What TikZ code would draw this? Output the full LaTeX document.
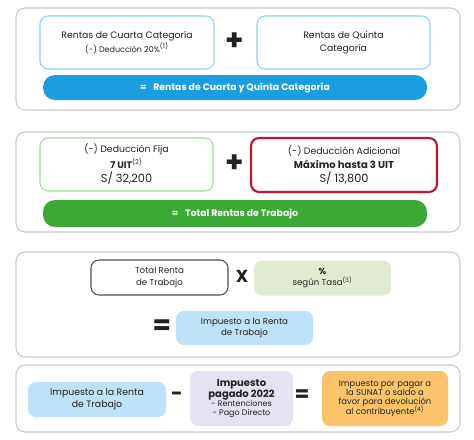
\documentclass[tikz,border=0pt]{standalone}
\usepackage{fontspec}
\setmainfont{Poppins}
\usepackage{tikz}
\usetikzlibrary{positioning, calc}
\usepackage{xcolor}

\definecolor{panelgray}{HTML}{CACACA}
\definecolor{skyline}{HTML}{8ECFEF}
\definecolor{skybar}{HTML}{1B9DDF}
\definecolor{leafline}{HTML}{A9D6A2}
\definecolor{leafbar}{HTML}{3DA935}
\definecolor{redline}{HTML}{C4122F}
\definecolor{sagefill}{HTML}{E1EBD2}
\definecolor{icefill}{HTML}{BEE2F7}
\definecolor{lilacfill}{HTML}{E4E3F1}
\definecolor{amberfill}{HTML}{FBC46B}
\definecolor{inkgray}{HTML}{222222}

\newcommand{\txt}[1]{\fontsize{#1}{\fpeval{#1*1.3}}\selectfont}

\begin{document}
\begin{tikzpicture}[x=0.75pt, y=-0.75pt,
  panel/.style={draw=panelgray, line width=0.8pt, rounded corners=7pt},
  box/.style={rounded corners=6pt, align=center, text=inkgray, inner sep=1pt, font=\txt{7}},
  bar/.style={rounded corners=9pt, minimum width=288pt, text=white, font=\txt{7}\bfseries},
  op/.style={text=inkgray, font=\txt{22}\bfseries}]
  \fill[white] (0,0) rectangle (474,439);
  \useasboundingbox (0,0) rectangle (474,439);

  % Panel 1: cuarta + quinta
  \draw[panel] (16,8) rectangle (460,110);
  \node[box, draw=skyline, line width=0.8pt, minimum width=130.5pt, minimum height=39.75pt] (cuarta) at (127,42.5)
    {Rentas de Cuarta Categoría\\[1pt]{\txt{6}(-) Deducción 20\%\textsuperscript{(1)}}};
  \node[op] (plusA) at (235,42) {+};
  \node[box, draw=skyline, line width=0.8pt, minimum width=129.75pt, minimum height=39.75pt] (quinta) at (343.5,42.5)
    {Rentas de Quinta\\[1pt]Categoría};
  \node[bar, fill=skybar, minimum height=18.75pt] (sumaBar) at (235,87.5)
    {=\hspace{5pt}Rentas de Cuarta y Quinta Categoría};

  % Panel 2: deducciones
  \draw[panel] (16,132) rectangle (460,232);
  \node[box, draw=leafline, line width=0.8pt, minimum width=129.75pt, minimum height=39.75pt] (fija) at (126.5,164.5)
    {(-) Deducción Fija\\[1.5pt]\textbf{7 UIT}\textsuperscript{(2)}\\[1.5pt]{\txt{8.5}S/ 32,200}};
  \node[op] (plusB) at (235,164) {+};
  \node[box, draw=redline, line width=1.6pt, minimum width=139.5pt, minimum height=40.5pt] (adicional) at (344,165)
    {(-) Deducción Adicional\\[1pt]{\txt{7.5}\textbf{Máximo hasta 3 UIT}}\\[1.5pt]{\txt{8.5}S/ 13,800}};
  \node[bar, fill=leafbar, minimum height=20.25pt] (totalBar) at (235,213.5)
    {=\hspace{5pt}Total Rentas de Trabajo};

  % Panel 3: tasa
  \draw[panel] (16,252) rectangle (460,357);
  \node[box, draw=inkgray!80, line width=0.8pt, minimum width=102.75pt, minimum height=26.25pt, font=\txt{6.5}] (renta) at (159.5,277.5)
    {Total Renta\\de Trabajo};
  \node[op, font=\txt{13}\bfseries] (times) at (242,276) {X};
  \node[box, fill=sagefill, minimum width=102.75pt, minimum height=26.25pt, font=\txt{6.5}] (tasa) at (322.5,278)
    {\textbf{\%}\\según Tasa\textsuperscript{(3)}};
  \node[op, font=\txt{20}\bfseries] (eqA) at (162,327) {=};
  \node[box, fill=icefill, minimum width=102.75pt, minimum height=25.5pt, font=\txt{6.5}] (impuesto) at (244.5,328)
    {Impuesto a la Renta\\de Trabajo};

  % Panel 4: saldo
  \draw[panel] (16,365) rectangle (460,432);
  \node[box, fill=icefill, minimum width=103.5pt, minimum height=26.25pt] (impuestoB) at (97,399.5)
    {Impuesto a la Renta\\de Trabajo};
  \node[op, font=\txt{15}\bfseries] (minus) at (177,396) {-};
  \node[box, fill=lilacfill, minimum width=77.25pt, minimum height=41.25pt, font=\txt{7.5}] (pagado) at (241.5,398.5)
    {\textbf{Impuesto}\\[-2pt]\textbf{pagado 2022}\\[-3pt]{\txt{6}- Rentenciones}\\[-3pt]{\txt{6}- Pago Directo}};
  \node[op, font=\txt{16}\bfseries] (eqB) at (302,396) {=};
  \node[box, fill=amberfill, minimum width=94.5pt, minimum height=41.25pt, font=\txt{6.3}] (saldo) at (385,398.5)
    {Impuesto por pagar a\\[-1.5pt]la SUNAT o saldo a\\[-1.5pt]favor para devolución\\[-1.5pt]al contribuyente\textsuperscript{(4)}};
\end{tikzpicture}
\end{document}
